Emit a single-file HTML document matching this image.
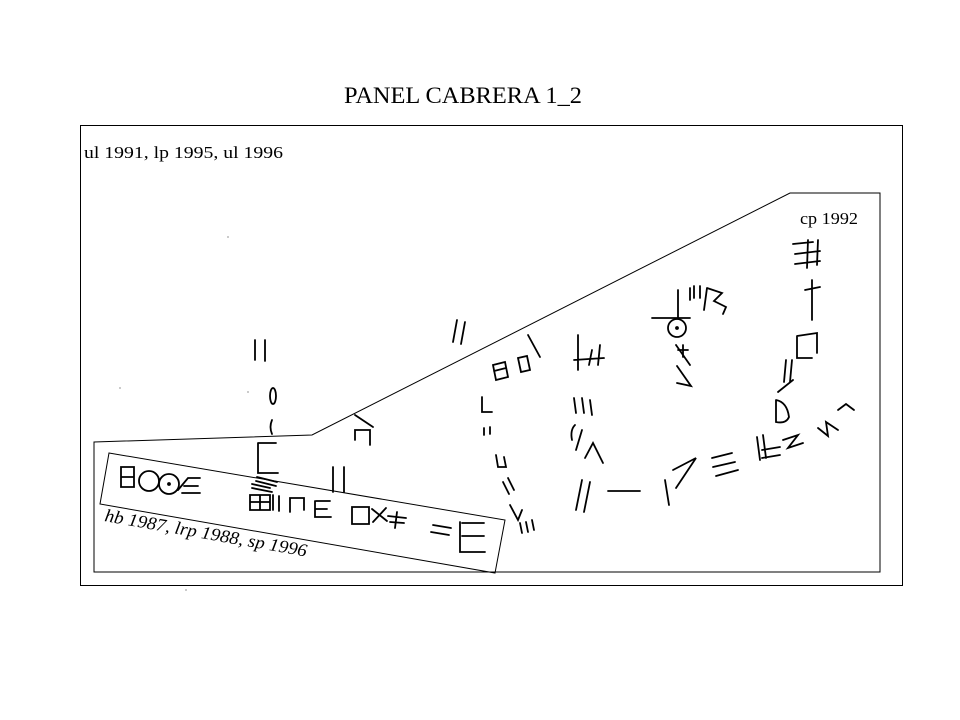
<!DOCTYPE html>
<html><head><meta charset="utf-8"><style>
html,body{margin:0;padding:0;background:#fff;width:960px;height:720px;overflow:hidden}
</style></head><body>
<svg width="960" height="720" viewBox="0 0 960 720" xmlns="http://www.w3.org/2000/svg" font-family="Liberation Serif, serif">
<text x="344" y="103" font-size="23" textLength="238" lengthAdjust="spacingAndGlyphs">PANEL CABRERA 1_2</text>
<rect x="80.5" y="125.5" width="822" height="460" fill="none" stroke="#000" stroke-width="1"/>
<text x="84" y="158" font-size="17" textLength="199" lengthAdjust="spacingAndGlyphs">ul 1991, lp 1995, ul 1996</text>
<polygon points="94,442 312,435 790,193 880,193 880,572 94,572" fill="none" stroke="#000" stroke-width="1"/>
<text x="800" y="224" font-size="17" textLength="58" lengthAdjust="spacingAndGlyphs">cp 1992</text>
<polygon points="109,453 505,520 495,573 100,504" fill="none" stroke="#000" stroke-width="1"/>
<text x="104" y="521" font-size="18" font-style="italic" transform="rotate(10 104 521)" textLength="205" lengthAdjust="spacingAndGlyphs">hb 1987, lrp 1988, sp 1996</text>
<g fill="none" stroke="#000" stroke-width="1.8" stroke-linecap="round">
<path d="M121,467 h13 v20 h-13 z M121,477 h13"/>
<circle cx="149" cy="481" r="10"/>
<circle cx="169" cy="484" r="10"/><circle cx="169" cy="484" r="1" fill="#000"/>
<path d="M178,490 L188,478 h12 M184,486 h14 M182,493 h18"/>
<path d="M250,495 h20 v15 h-20 z M250,502 h20 M260,495 v15 M252,488 l20,4 M252,484 l18,4"/>
<path d="M273,495 v15 M279,496 v15 M290,512 v-14 h14 v12 M315,501 v16 h16 M315,509 h12 M316,501 h14"/>
<path d="M352,507 h17 v17 h-17 z M372,509 l15,12 M386,508 l-13,14 M388,516 l18,2 M390,522 l14,1 M397,512 l-2,16"/>
<path d="M433,525 l18,3 M431,532 l18,3 M460,522 v30 h25 M462,536 h22 M462,523 h22"/>
<path d="M255,340 v20 M265,340 v21"/>
<ellipse cx="273" cy="396" rx="3" ry="8"/>
<path d="M272,420 q-3,7 0,14"/>
<path d="M258,443 v30 h20 M258,443 h18 M257,477 l20,5 M256,481 l20,5"/>
<path d="M355,415 l18,12 M355,440 v-10 h15 v15 M333,467 v25 M344,467 v25"/>
<path d="M457,320 l-4,22 M465,322 l-4,22"/>
<path d="M493,365 l12,-3 l3,15 l-12,3 z M494,371 l12,-3"/>
<path d="M518,358 l9,-2 l3,14 l-9,2 z M528,335 l12,22"/>
<path d="M482,397 v15 h10 M484,428 v7 M490,427 v7 M496,455 l2,12 h8 l-2,-10 M503,482 l6,12 M508,478 l6,12 M510,505 l8,15 l4,-10 M520,523 l2,10 M526,522 l2,10 M532,520 l2,10"/>
<path d="M578,335 v35 M574,360 l30,-2 M592,350 l-3,15 M600,345 l-2,20"/>
<path d="M574,398 l2,15 M582,398 l2,15 M590,400 l2,15 M575,425 q-5,5 -3,15 M582,430 l-6,20 M585,458 l8,-15 l10,20"/>
<path d="M582,480 l-6,30 M590,482 l-6,30 M608,491 h32"/>
<path d="M665,480 l4,25 M673,470 l23,-12 l-20,30"/>
<path d="M712,458 l20,-5 M713,467 l22,-5 M716,476 l22,-6"/>
<path d="M757,437 l3,23 M763,435 l3,23 M762,450 l18,-3 M762,458 l18,-3 M783,440 l15,-5 l-10,13 l15,-5"/>
<path d="M818,428 l10,8 l-2,-14 l12,8 M838,410 l8,-6 l8,6"/>
<path d="M677,366 l14,20 l-14,-3 M690,365 l-14,-20"/>
<path d="M678,350 h10 M683,345 v12"/>
<circle cx="677" cy="328" r="9"/><circle cx="677" cy="328" r="1" fill="#000"/>
<path d="M652,318 h38 M678,290 v28 M690,288 v12 M694,286 v12 M700,286 v12"/>
<path d="M707,288 l-3,22 M707,288 l15,5 l-8,8 l12,6 l-3,7"/>
<path d="M793,244 l20,-2 M795,254 l25,-3 M795,264 l25,-3 M808,240 l-1,28 M818,240 l-1,25"/>
<path d="M812,280 v20 M805,290 l15,-3 M812,300 v20 M797,336 l20,-3 v20 M797,336 v22 h15"/>
<path d="M786,360 l-2,22 M792,360 l-2,22 M778,392 l15,-12 M776,400 l0,22 q10,2 13,-5 q-2,-15 -13,-17"/>
</g>
<g fill="#bbb">
<circle cx="228" cy="237" r="1"/><circle cx="120" cy="388" r="1"/><circle cx="248" cy="392" r="1"/><circle cx="186" cy="590" r="1"/>
</g>
</svg>
</body></html>
